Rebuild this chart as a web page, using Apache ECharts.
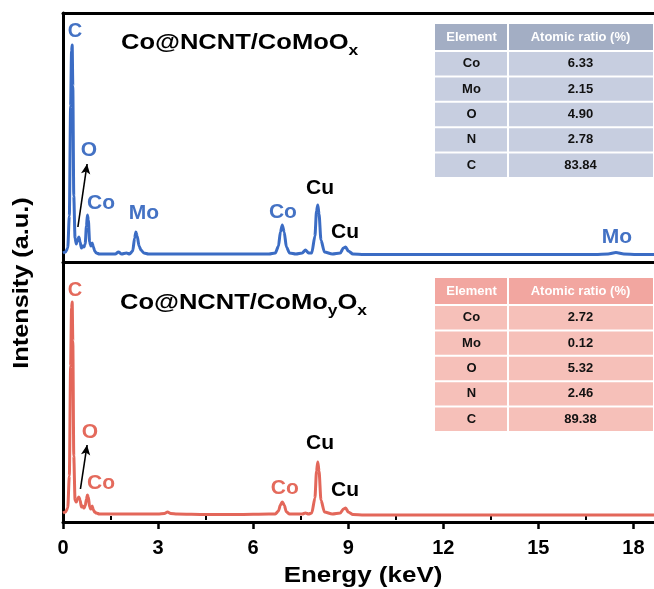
<!DOCTYPE html>
<html><head><meta charset="utf-8">
<script src="https://cdn.jsdelivr.net/npm/echarts@6/dist/echarts.min.js"></script>
<style>html,body{margin:0;padding:0;background:#fff}#c{width:654px;height:589px}</style>
</head><body><div id="c"></div>
<script>
// Energy sample points (keV)
const energy = [0,0.08,0.15,0.2,0.24,0.27,0.29,0.31,0.34,0.38,0.42,0.46,0.5,0.54,0.58,0.62,0.66,0.7,0.74,0.77,0.8,0.84,0.88,0.92,0.96,1.0,1.05,1.15,1.3,1.5,1.65,1.75,1.85,2.0,2.1,2.2,2.26,2.3,2.34,2.4,2.46,2.55,2.7,3.0,3.2,3.3,3.4,3.6,4.5,5.5,6.5,6.7,6.8,6.86,6.92,6.98,7.05,7.15,7.35,7.55,7.65,7.75,7.85,7.95,8.0,8.04,8.08,8.14,8.25,8.5,8.75,8.85,8.92,9.0,9.15,9.5,11,13,15,16.8,17.2,17.45,17.7,18.1,18.7];
// Co@NCNT/CoMoOx intensity (a.u.)
const intensityTop = [3,4,8,40,150,205,211,170,60,18,12,16,19,14,8,10,9,12,30,41,36,14,10,13,9,5,3,2,2,2,2,4,2,3,2,5,18,24,20,10,6,3,2,2,2,2,2,2,2,2,2,3,10,24,31,24,9,3,2,3,6,3,3,20,45,51,42,16,4,2,3,8,9,5,2,1.5,1.5,1.5,1.5,1.5,2,3.5,2,1.5,1.5];
// Co@NCNT/CoMoyOx intensity (a.u.)
const intensityBottom = [3,4,8,40,150,208,214,175,60,16,14,17,19,16,9,10,8,10,17,21,19,9,7,10,6,4,3,2,2,2,2,2,2,2,2,2,2,2,2,2,2,2,2,2,2.5,4,2.5,2,1.5,1.5,2,2,5,11,14,11,4,2,2,2,3,2,3,18,45,54,45,16,4,2,3,7,8,4,1.5,1,1,1,1,1,1,1,1,1,1];

const xTicks = [0,3,6,9,12,15,18];
const xMinorTicks = [1.5,4.5,7.5,10.5,13.5,16.5];

const tableElements = ['Co','Mo','O','N','C'];
const ratioTop = [6.33,2.15,4.90,2.78,83.84];
const ratioBottom = [2.72,0.12,5.32,2.46,89.38];

const peakLabelsTop = ['C','O','Co','Mo','Co','Cu','Cu','Mo'];
const peakLabelsTopE = [0.38,0.82,1.2,2.55,6.94,8.11,8.9,17.48];
const peakLabelsTopV = [225,106,53,43,44,68,24,19];
const peakLabelsBottom = ['C','O','Co','Co','Cu','Cu'];
const peakLabelsBottomE = [0.38,0.85,1.2,7.0,8.11,8.9];
const peakLabelsBottomV = [226,84,33,28,73,26];

const BLUE = '#3b6cc4', RED = '#e3675a';
const LBLUE = '#4472c4', LRED = '#e46a5c';
const chart = echarts.init(document.getElementById('c'));

function labelSeries(texts, es, vs, color, xi, yi){
  return {
    type:'scatter', xAxisIndex:xi, yAxisIndex:yi, symbol:'circle', symbolSize:1, silent:true,
    itemStyle:{color:'rgba(0,0,0,0)', opacity:1}, z:5,
    data: texts.map((t,i)=>({name:t, value:[es[i],vs[i]],
      label:{color: t==='Cu' ? '#000' : color, fontSize: t==='C' ? 20 : 21}})),
    label:{show:true, position:'inside', formatter:p=>p.name,
      fontFamily:'Liberation Sans, Arial', fontWeight:'bold', fontSize:21}
  };
}

function table(x0, y0, headColor, rowColor, values){
  const els = [];
  const w = 218, split = 73, headH = 27, rowH = 25.4;
  const f = 'bold 13px Liberation Sans, Arial';
  els.push({type:'rect', shape:{x:x0,y:y0,width:split-1,height:headH-1}, style:{fill:headColor}});
  els.push({type:'rect', shape:{x:x0+split+1,y:y0,width:w-split-1,height:headH-1}, style:{fill:headColor}});
  els.push({type:'text', style:{text:'Element', x:x0+split/2, y:y0+headH/2, align:'center', verticalAlign:'middle', fill:'#fff', font:f}});
  els.push({type:'text', style:{text:'Atomic ratio (%)', x:x0+split+(w-split)/2, y:y0+headH/2, align:'center', verticalAlign:'middle', fill:'#fff', font:f}});
  values.forEach((v,i)=>{
    const y = y0+headH+1+i*rowH;
    els.push({type:'rect', shape:{x:x0,y:y,width:split-1,height:rowH-2}, style:{fill:rowColor}});
    els.push({type:'rect', shape:{x:x0+split+1,y:y,width:w-split-1,height:rowH-2}, style:{fill:rowColor}});
    els.push({type:'text', style:{text:tableElements[i], x:x0+split/2, y:y+rowH/2-1, align:'center', verticalAlign:'middle', fill:'#111', font:f}});
    els.push({type:'text', style:{text:v.toFixed(2), x:x0+split+(w-split)/2, y:y+rowH/2-1, align:'center', verticalAlign:'middle', fill:'#111', font:f}});
  });
  return els;
}

const titleRich = {
  m:{fontSize:22, fontWeight:'bold', fontFamily:'Liberation Sans, Arial', lineHeight:30, verticalAlign:'middle', fill:'#000'},
  s:{fontSize:15, fontWeight:'bold', fontFamily:'Liberation Sans, Arial', lineHeight:14, verticalAlign:'bottom', fill:'#000'}
};

const axisLineStyle = {color:'#000', width:3};
const option = {
  animation:false,
  backgroundColor:'#fff',
  grid:[{left:63,right:0,top:13,height:249},{left:63,right:0,top:262,height:260}],
  xAxis:[
    {gridIndex:0,type:'value',min:0,max:18.65,position:'bottom',axisLine:{show:true,onZero:false,lineStyle:axisLineStyle},axisTick:{show:false},axisLabel:{show:false},splitLine:{show:false}},
    {gridIndex:0,type:'value',min:0,max:18.65,position:'top',axisLine:{show:true,onZero:false,lineStyle:axisLineStyle},axisTick:{show:false},axisLabel:{show:false},splitLine:{show:false}},
    {gridIndex:1,type:'value',min:0,max:18.65,position:'bottom',
      axisLine:{show:true,onZero:false,lineStyle:axisLineStyle},
      axisTick:{show:true,length:7,lineStyle:{color:'#000',width:2.5},customValues:xTicks},
      axisLabel:{show:true,customValues:xTicks,margin:16,color:'#000',fontSize:20,fontWeight:'bold',fontFamily:'Liberation Sans, Arial'},
      splitLine:{show:false}},
    {gridIndex:1,type:'value',min:0,max:18.65,position:'bottom',
      axisLine:{show:false},
      axisTick:{show:true,length:4,lineStyle:{color:'#000',width:2},customValues:xMinorTicks},
      axisLabel:{show:false},splitLine:{show:false}}
  ],
  yAxis:[
    {gridIndex:0,type:'value',min:-6,max:243,axisLine:{show:true,onZero:false,lineStyle:axisLineStyle},axisTick:{show:false},axisLabel:{show:false},splitLine:{show:false}},
    {gridIndex:1,type:'value',min:-6,max:254,axisLine:{show:true,onZero:false,lineStyle:axisLineStyle},axisTick:{show:false},axisLabel:{show:false},splitLine:{show:false}}
  ],
  series:[
    {type:'line',xAxisIndex:0,yAxisIndex:0,showSymbol:false,symbol:'none',smooth:0.25,smoothMonotone:'x',
      lineStyle:{color:BLUE,width:3},data:energy.map((e,i)=>[e,intensityTop[i]]),
      markLine:{silent:true,symbol:['none','arrow'],symbolSize:[7,10],label:{show:false},
        lineStyle:{color:'#000',width:1.6,type:'solid'},
        data:[[{coord:[0.47,29]},{coord:[0.76,92]}]]}},
    {type:'line',xAxisIndex:2,yAxisIndex:1,showSymbol:false,symbol:'none',smooth:0.25,smoothMonotone:'x',
      lineStyle:{color:RED,width:3},data:energy.map((e,i)=>[e,intensityBottom[i]]),
      markLine:{silent:true,symbol:['none','arrow'],symbolSize:[7,10],label:{show:false},
        lineStyle:{color:'#000',width:1.6,type:'solid'},
        data:[[{coord:[0.55,27]},{coord:[0.76,71]}]]}},
    labelSeries(peakLabelsTop,peakLabelsTopE,peakLabelsTopV,LBLUE,0,0),
    labelSeries(peakLabelsBottom,peakLabelsBottomE,peakLabelsBottomV,LRED,2,1)
  ],
  graphic:[
    {type:'text',x:22,y:283,rotation:Math.PI/2,scaleX:1.15,style:{text:'Intensity (a.u.)',align:'center',verticalAlign:'middle',fill:'#000',font:'bold 22px Liberation Sans, Arial'}},
    {type:'text',x:363,y:576,scaleX:1.18,style:{text:'Energy (keV)',align:'center',verticalAlign:'middle',fill:'#000',font:'bold 22px Liberation Sans, Arial'}},
    {type:'text',x:121,y:28,scaleX:1.16,style:{text:'{m|Co@NCNT/CoMoO}{s|x}',rich:titleRich}},
    {type:'text',x:120,y:288,scaleX:1.16,style:{text:'{m|Co@NCNT/CoMo}{s|y}{m|O}{s|x}',rich:titleRich}},
    ...table(435,24,'#a3aec4','#c7cee0',ratioTop),
    ...table(435,278,'#f2a6a0','#f6c0b9',ratioBottom)
  ]
};
chart.setOption(option);
</script></body></html>
